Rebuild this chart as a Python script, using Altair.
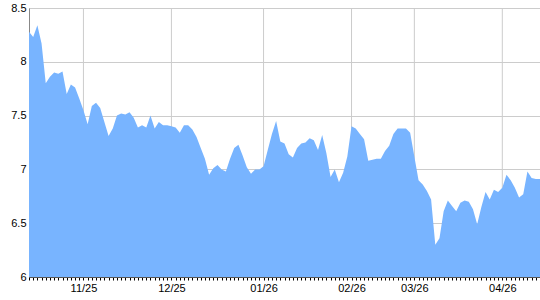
import altair as alt
import pandas as pd

values = [
    8.28, 8.23, 8.34, 8.17, 7.80, 7.86, 7.90, 7.89, 7.91, 7.70,
    7.79, 7.76, 7.66, 7.55, 7.42, 7.59, 7.62, 7.57, 7.44, 7.31,
    7.38, 7.50, 7.52, 7.51, 7.53, 7.48, 7.39, 7.41, 7.39, 7.50,
    7.38, 7.44, 7.41, 7.41, 7.40, 7.39, 7.34, 7.41, 7.41, 7.37,
    7.30, 7.20, 7.10, 6.95, 7.01, 7.04, 7.00, 6.98, 7.10, 7.20,
    7.23, 7.13, 7.02, 6.96, 7.00, 7.00, 7.03, 7.18, 7.33, 7.45,
    7.26, 7.24, 7.14, 7.11, 7.20, 7.24, 7.25, 7.29, 7.27, 7.18,
    7.32, 7.15, 6.93, 7.00, 6.88, 6.97, 7.12, 7.40, 7.38, 7.33,
    7.28, 7.08, 7.09, 7.10, 7.10, 7.17, 7.22, 7.33, 7.38, 7.38,
    7.38, 7.34, 7.12, 6.90, 6.86, 6.80, 6.72, 6.30, 6.36, 6.61,
    6.71, 6.66, 6.61, 6.69, 6.71, 6.70, 6.63, 6.49, 6.65, 6.79,
    6.72, 6.81, 6.79, 6.83, 6.95, 6.90, 6.83, 6.74, 6.77, 6.98,
    6.92, 6.91, 6.91,
]
month_idx = [13, 34, 56, 77, 92, 113]
month_labels = ["11/25", "12/25", "01/26", "02/26", "03/26", "04/26"]
y_ticks = [6, 6.5, 7, 7.5, 8, 8.5]
y_base = 6

n = len(values)
df = pd.DataFrame({"i": list(range(n)), "v": values, "base": [y_base] * n})
grid_df = pd.DataFrame({"i": month_idx, "label": month_labels})

label_expr = " : ".join(
    f"datum.value == {i} ? '{lab}'" for i, lab in zip(month_idx, month_labels)
) + " : ''"

x_scale = alt.Scale(domain=[0, n - 1], nice=False, zero=False)
y_scale = alt.Scale(domain=[6, 8.5], nice=False, zero=False)

font = "Liberation Sans"

x_axis = alt.Axis(
    values=list(range(n)),
    labelExpr=label_expr,
    labelOverlap=False,
    labelFlush=False,
    grid=False,
    ticks=True,
    tickSize=3,
    tickColor="#000000",
    domainColor="#555555",
    labelColor="#000000",
    labelFont=font,
    labelFontSize=11,
    labelPadding=2,
    zindex=2,
)

rules = alt.Chart(grid_df).mark_rule(color="#cccccc", strokeWidth=1).encode(
    x=alt.X("i:Q", scale=x_scale, title=None, axis=x_axis)
)

area = alt.Chart(df).mark_area(color="#78b4ff", opacity=1, clip=True).encode(
    x=alt.X("i:Q", scale=x_scale, title=None, axis=x_axis),
    y=alt.Y(
        "v:Q",
        scale=y_scale,
        title=None,
        axis=alt.Axis(
            values=y_ticks,
            format="~g",
            grid=True,
            gridColor="#cccccc",
            ticks=False,
            domainColor="#888888",
            labelColor="#000000",
            labelFont=font,
            labelFontSize=11,
            labelPadding=3,
        ),
    ),
    y2=alt.Y2("base:Q"),
)

chart = (
    alt.layer(rules, area)
    .properties(
        width=511,
        height=269,
        autosize="none",
        padding={"left": 29, "top": 8, "right": 0, "bottom": 23},
    )
    .configure_view(stroke="#cccccc")
)

chart.save("out.html", embed_options={"renderer": "svg", "actions": False})
